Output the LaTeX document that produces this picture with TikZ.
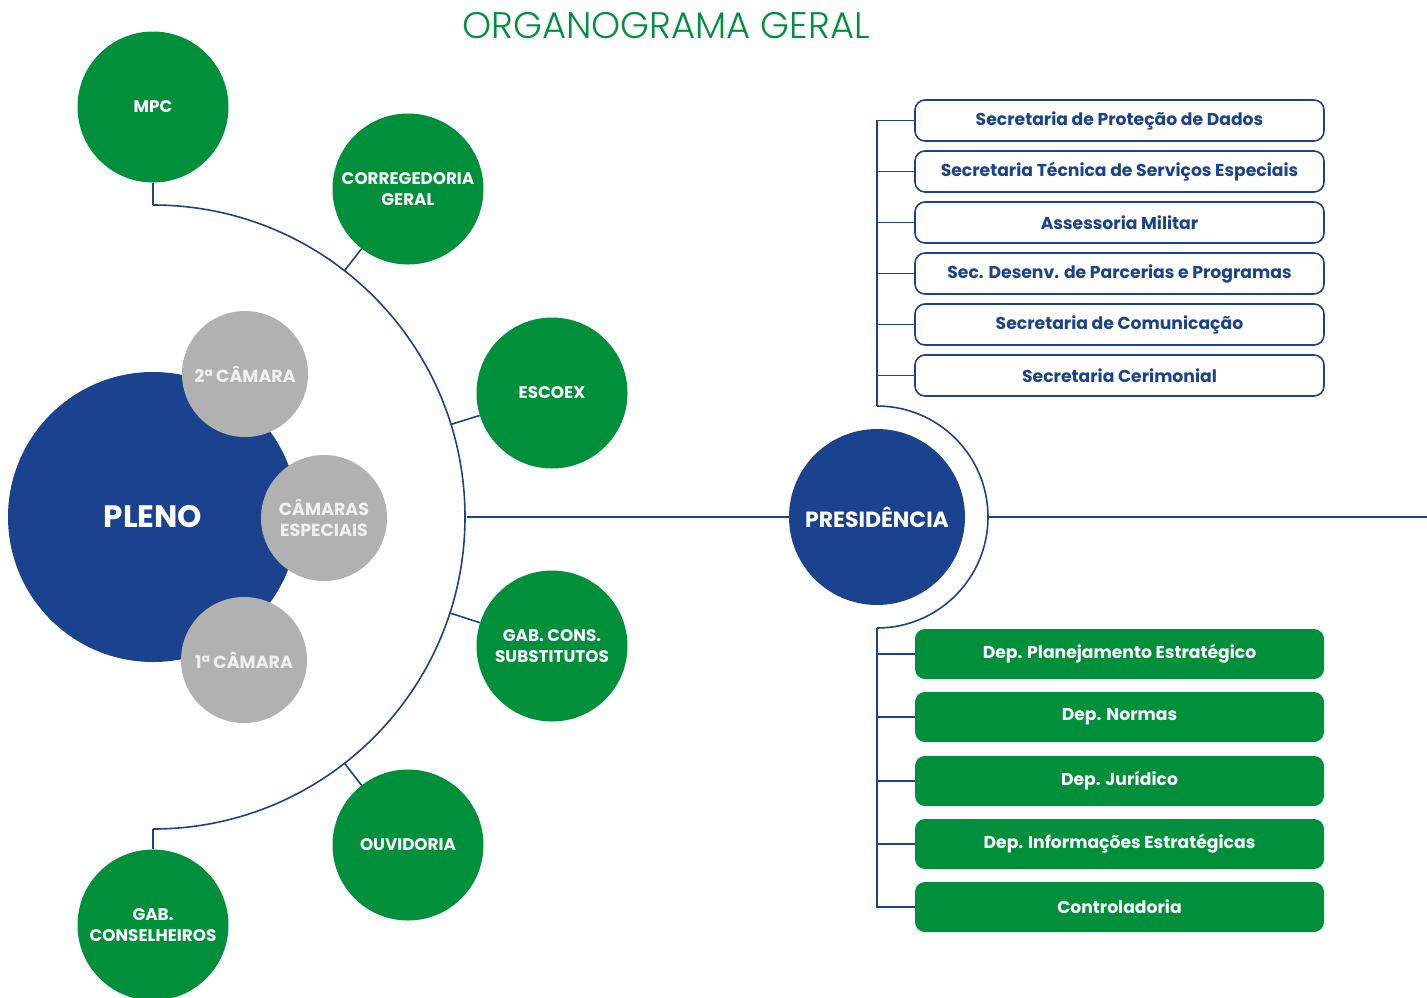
\documentclass[tikz,border=0pt]{standalone}
\usepackage{fontspec}
\setmainfont{Poppins}[UprightFont={* Bold}]
\newfontfamily\titlefont{Poppins}[UprightFont={* Light}]
\usetikzlibrary{calc, positioning}

\definecolor{tcblue}{HTML}{1A428F}
\definecolor{tcgreen}{HTML}{00903B}
\definecolor{tcgray}{HTML}{B1B1B1}

\begin{document}
\begin{tikzpicture}[x=1pt, y=-1pt,
  link/.style={draw=tcblue, line width=1.6pt},
  orgao/.style={circle, fill=tcgreen, minimum size=151pt, inner sep=0pt,
                text=white, align=center, font=\fontsize{16.8}{20.5}\selectfont},
  camara/.style={circle, fill=tcgray, minimum size=126pt, inner sep=0pt,
                 text=white!94!black, align=center, font=\fontsize{17.5}{21}\selectfont},
  secbox/.style={draw=tcblue, line width=1.6pt, rounded corners=10pt, fill=white,
                 minimum width=409pt, minimum height=41pt, text=tcblue,
                 font=\fontsize{17.2}{20}\selectfont},
  depbox/.style={fill=tcgreen, rounded corners=10pt, minimum width=409pt,
                 minimum height=50pt, text=white, font=\fontsize{17.2}{20}\selectfont}]
\useasboundingbox (0,0) rectangle (1427,997);
% Title
\node (titulo) at (666,26) {\titlefont\fontsize{37}{40}\selectfont\color{tcgreen}ORGANOGRAMA GERAL};
% Coordinates
\coordinate (p) at (153,517);
\coordinate (q) at (877,517);
\coordinate (arctop) at (153,205);
\coordinate (arcbot) at (153,829);
\coordinate (arcright) at (467,517);
\coordinate (prtop) at (877,406);
\coordinate (prbot) at (877,628);
\coordinate (prright) at (988,517);
\coordinate (margem) at (1427,517);
% Draw big arc round the plenary
\draw[link] (arctop) arc[start angle=-90, end angle=90, radius=312];
% Plenary and chambers
\node[circle, fill=tcblue, minimum size=290pt, inner sep=0pt, text=white,
      font=\fontsize{31}{34}\selectfont] (pleno) at (p) {PLENO};
\node[camara] (cam2) at (245,374) {2ª CÂMARA};
\node[camara] (camesp) at (324,518) {CÂMARAS\\ESPECIAIS};
\node[camara] (cam1) at (244,660) {1ª CÂMARA};
% Green units round the arc
\node[orgao] (mpc) at (153,107) {MPC};
\node[orgao] (correg) at (408,189) {CORREGEDORIA\\GERAL};
\node[orgao] (escoex) at (552,393) {ESCOEX};
\node[orgao] (gabsub) at (552,646) {GAB. CONS.\\SUBSTITUTOS};
\node[orgao] (ouvid) at (408,845) {OUVIDORIA};
\node[orgao] (gabcons) at (153,925) {GAB.\\CONSELHEIROS};
\draw[link] (mpc) -- (arctop);
\draw[link] (gabcons) -- (arcbot);
\draw[link] (correg) -- ($(p)!312pt!(correg)$);
\draw[link] (escoex) -- ($(p)!312pt!(escoex)$);
\draw[link] (gabsub) -- ($(p)!312pt!(gabsub)$);
\draw[link] (ouvid) -- ($(p)!312pt!(ouvid)$);
% Presidency
\node[circle, fill=tcblue, minimum size=176pt, inner sep=0pt, text=white,
      font=\fontsize{22}{24}\selectfont] (pres) at (q) {PRESIDÊNCIA};
\draw[link] (arcright) -- (pres);
\draw[link] (prtop) arc[start angle=-90, end angle=90, radius=111];
\draw[link] (prright) -- (margem);
% Secretariats
\node[secbox] (s1) at (1119.5,120.5) {Secretaria de Proteção de Dados};
\node[secbox] (s2) at (1119.5,171.5) {Secretaria Técnica de Serviços Especiais};
\node[secbox] (s3) at (1119.5,222.5) {Assessoria Militar};
\node[secbox] (s4) at (1119.5,273.5) {Sec. Desenv. de Parcerias e Programas};
\node[secbox] (s5) at (1119.5,324.5) {Secretaria de Comunicação};
\node[secbox] (s6) at (1119.5,375.5) {Secretaria Cerimonial};
\draw[link] (prtop) -- (prtop |- s1) -- (s1);
\draw[link] (prtop |- s2) -- (s2);
\draw[link] (prtop |- s3) -- (s3);
\draw[link] (prtop |- s4) -- (s4);
\draw[link] (prtop |- s5) -- (s5);
\draw[link] (prtop |- s6) -- (s6);
% Departments
\node[depbox] (d1) at (1119.5,654) {Dep. Planejamento Estratégico};
\node[depbox] (d2) at (1119.5,717) {Dep. Normas};
\node[depbox] (d3) at (1119.5,781) {Dep. Jurídico};
\node[depbox] (d4) at (1119.5,844) {Dep. Informações Estratégicas};
\node[depbox] (d5) at (1119.5,907) {Controladoria};
\draw[link] (prbot) -- (prbot |- d5) -- (d5);
\draw[link] (prbot |- d1) -- (d1);
\draw[link] (prbot |- d2) -- (d2);
\draw[link] (prbot |- d3) -- (d3);
\draw[link] (prbot |- d4) -- (d4);
\end{tikzpicture}
\end{document}
